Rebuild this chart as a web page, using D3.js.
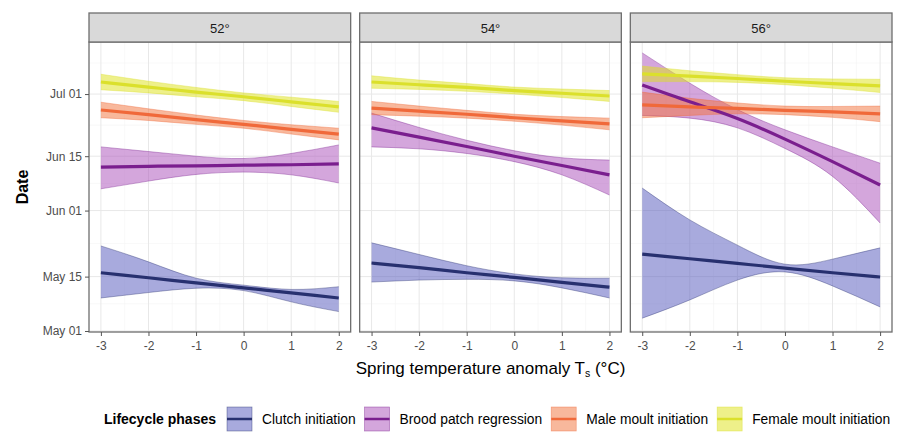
<!DOCTYPE html>
<html>
<head>
<meta charset="utf-8">
<script src="https://cdn.jsdelivr.net/npm/d3@7"></script>
<style>
  body { margin: 0; background: #fff; }
  text { font-family: "Liberation Sans", Arial, sans-serif; }
</style>
</head>
<body>
<svg width="907" height="432"></svg>
<script>
// temperature anomaly values where fits / bands were read
var xs = [-3, -2, -1, 0, 1, 2];
var xTicks = [-3, -2, -1, 0, 1, 2];
var panels = ["52°", "54°", "56°"];
var phases = ["Clutch initiation", "Brood patch regression", "Male moult initiation", "Female moult initiation"];
var tickDays = ["2019-05-01", "2019-05-15", "2019-06-01", "2019-06-15", "2019-07-01"];

// day of year: fit line, lower and upper limit
var clutch52 = {fit: [136.0, 134.7, 133.4, 132.1, 130.8, 129.5], lo: [129.5, 130.9, 132.0, 131.4, 128.5, 126.0], hi: [142.9, 138.8, 134.6, 132.8, 131.7, 132.4]};
var brood52  = {fit: [163.2, 163.4, 163.5, 163.7, 163.8, 164.0], lo: [157.6, 159.6, 161.3, 161.9, 161.2, 159.1], hi: [168.4, 167.2, 166.0, 165.4, 166.7, 168.9]};
var male52   = {fit: [177.9, 176.7, 175.4, 174.2, 172.9, 171.7], lo: [175.9, 175.2, 174.2, 173.2, 171.7, 170.2], hi: [179.9, 178.2, 176.6, 175.2, 174.1, 173.2]};
var female52 = {fit: [185.1, 183.8, 182.5, 181.3, 180.0, 178.7], lo: [183.1, 182.3, 181.3, 180.3, 178.8, 177.3], hi: [187.1, 185.3, 183.7, 182.3, 181.2, 180.1]};

var clutch54 = {fit: [138.5, 137.3, 136.0, 134.8, 133.5, 132.3], lo: [133.6, 134.1, 134.3, 133.9, 132.1, 129.5], hi: [143.7, 140.7, 137.8, 135.7, 134.7, 134.6]};
var brood54  = {fit: [173.3, 170.9, 168.5, 166.0, 163.6, 161.2], lo: [168.4, 167.9, 166.7, 164.6, 161.2, 156.0], hi: [177.1, 173.4, 170.1, 167.4, 165.6, 165.0]};
var male54   = {fit: [178.4, 177.6, 176.8, 175.9, 175.1, 174.3], lo: [176.7, 176.3, 175.8, 175.0, 174.0, 172.8], hi: [180.1, 178.9, 177.8, 176.8, 176.2, 175.8]};
var female54 = {fit: [185.1, 184.4, 183.7, 182.9, 182.2, 181.5], lo: [183.5, 183.2, 182.7, 182.0, 181.1, 180.1], hi: [186.7, 185.6, 184.7, 183.8, 183.3, 182.9]};

var clutch56 = {fit: [140.8, 139.6, 138.4, 137.2, 136.0, 134.9], lo: [124.3, 129.0, 134.1, 136.2, 132.6, 127.2], hi: [157.8, 149.6, 143.1, 138.2, 139.5, 142.4]};
var brood56  = {fit: [184.3, 180.0, 175.7, 170.4, 164.6, 158.6], lo: [176.5, 175.8, 173.3, 168.0, 160.8, 148.8], hi: [192.6, 184.8, 178.0, 172.8, 168.4, 164.2]};
var male56   = {fit: [179.2, 178.7, 178.3, 177.8, 177.4, 176.9], lo: [175.9, 176.5, 176.9, 176.7, 176.0, 174.9], hi: [182.5, 180.9, 179.7, 178.9, 178.8, 178.9]};
var female56 = {fit: [187.2, 186.6, 186.0, 185.3, 184.7, 184.1], lo: [185.2, 185.2, 185.0, 184.4, 183.5, 182.4], hi: [189.2, 188.0, 187.0, 186.2, 185.9, 185.8]};

var panelData = [
  [clutch52, brood52, male52, female52],
  [clutch54, brood54, male54, female54],
  [clutch56, brood56, male56, female56]
];

var lineColors = ["#27306f", "#7a1e8e", "#f0693a", "#dbe02c"];
var bandColors = ["#5155bb", "#a94db9", "#f17139", "#dde115"];

var svg = d3.select("svg"),
    left = 89, right = 892, stripTop = 13, stripH = 29, plotBottom = 332, gap = 9,
    panelW = (right - left - 2 * gap) / 3,
    plotTop = stripTop + stripH;

var parseDay = d3.timeParse("%Y-%m-%d");
var yearStart = new Date(2019, 0, 0);
function toDate(doy) { return new Date(yearStart.getTime() + doy * 864e5); }

var y = d3.scaleTime()
    .domain([toDate(120.74), toDate(195.4)])
    .range([plotBottom, plotTop]);
var x = d3.scaleLinear().domain([-3.25, 2.25]).range([0, panelW]);

var majorY = tickDays.map(parseDay);
var minorY = [];
for (var i = 0; i < majorY.length; i++) {
  var a = majorY[i], b = majorY[i + 1];
  if (!b) b = new Date(a.getTime() + (a - majorY[i - 1]));
  var m = new Date((a.getTime() + b.getTime()) / 2);
  if (m <= y.domain()[1]) minorY.push(m);
}
var minorX = [-2.5, -1.5, -0.5, 0.5, 1.5];

var band = d3.area()
    .curve(d3.curveNatural)
    .x(function(d) { return x(d.x); })
    .y0(function(d) { return y(toDate(d.lo)); })
    .y1(function(d) { return y(toDate(d.hi)); });
var line = d3.line()
    .curve(d3.curveNatural)
    .x(function(d) { return x(d.x); })
    .y(function(d) { return y(toDate(d.fit)); });
var edge = d3.line()
    .curve(d3.curveNatural)
    .x(function(d) { return x(d.x); })
    .y(function(d) { return y(toDate(d.v)); });

var tickFont = "12px";

panels.forEach(function(label, p) {
  var g = svg.append("g").attr("transform", "translate(" + (left + p * (panelW + gap)) + ",0)");

  // grid
  g.selectAll(".minor-y").data(minorY).enter().append("line")
      .attr("x1", 0).attr("x2", panelW)
      .attr("y1", function(d) { return y(d); }).attr("y2", function(d) { return y(d); })
      .attr("stroke", "#f3f3f3").attr("stroke-width", 0.6);
  g.selectAll(".minor-x").data(minorX).enter().append("line")
      .attr("y1", plotTop).attr("y2", plotBottom)
      .attr("x1", function(d) { return x(d); }).attr("x2", function(d) { return x(d); })
      .attr("stroke", "#f3f3f3").attr("stroke-width", 0.6);
  g.selectAll(".major-y").data(majorY).enter().append("line")
      .attr("x1", 0).attr("x2", panelW)
      .attr("y1", function(d) { return y(d); }).attr("y2", function(d) { return y(d); })
      .attr("stroke", "#e8e8e8").attr("stroke-width", 1);
  g.selectAll(".major-x").data(xTicks).enter().append("line")
      .attr("y1", plotTop).attr("y2", plotBottom)
      .attr("x1", function(d) { return x(d); }).attr("x2", function(d) { return x(d); })
      .attr("stroke", "#e8e8e8").attr("stroke-width", 1);

  var series = panelData[p].map(function(s, k) {
    return {k: k, pts: xs.map(function(v, j) { return {x: v, fit: s.fit[j], lo: s.lo[j], hi: s.hi[j]}; })};
  });

  // ribbons first, then fitted lines
  series.forEach(function(s) {
    g.append("path")
        .attr("d", band(s.pts))
        .attr("fill", bandColors[s.k]).attr("fill-opacity", 0.5);
    ["lo", "hi"].forEach(function(key) {
      g.append("path")
          .attr("d", edge(s.pts.map(function(d) { return {x: d.x, v: d[key]}; })))
          .attr("fill", "none")
          .attr("stroke", lineColors[s.k]).attr("stroke-opacity", 0.55).attr("stroke-width", 0.7);
    });
  });
  series.forEach(function(s) {
    g.append("path")
        .attr("d", line(s.pts))
        .attr("fill", "none")
        .attr("stroke", lineColors[s.k]).attr("stroke-width", 3.2);
  });

  // border
  g.append("rect")
      .attr("x", 0).attr("y", plotTop).attr("width", panelW).attr("height", plotBottom - plotTop)
      .attr("fill", "none").attr("stroke", "#6e6e6e").attr("stroke-width", 1.3);

  // strip
  g.append("rect")
      .attr("x", 0).attr("y", stripTop).attr("width", panelW).attr("height", stripH)
      .attr("fill", "#d9d9d9").attr("stroke", "#6e6e6e").attr("stroke-width", 1.3);
  g.append("text")
      .attr("x", panelW / 2).attr("y", stripTop + stripH / 2 + 5)
      .attr("text-anchor", "middle").attr("fill", "#1a1a1a")
      .style("font-size", "13px")
      .text(label);

  // x axis
  var ax = g.append("g")
      .attr("transform", "translate(0," + plotBottom + ")")
      .call(d3.axisBottom(x).tickValues(xTicks).tickSize(4).tickPadding(5)
        .tickFormat(function(d) { return String(d); }));
  ax.select(".domain").remove();
  ax.selectAll("line").attr("stroke", "#555");
  ax.selectAll("text").attr("fill", "#4d4d4d").style("font-size", tickFont)
      .style("font-family", "'Liberation Sans', Arial, sans-serif");

  if (p === 0) {
    var ay = g.append("g")
        .call(d3.axisLeft(y).tickValues(majorY).tickSize(4).tickPadding(3)
          .tickFormat(d3.timeFormat("%b %d")));
    ay.select(".domain").remove();
    ay.selectAll("line").attr("stroke", "#555");
    ay.selectAll("text").attr("fill", "#4d4d4d").style("font-size", tickFont)
        .style("font-family", "'Liberation Sans', Arial, sans-serif");
  }
});

// axis titles
svg.append("text")
    .attr("transform", "translate(28," + ((plotTop + plotBottom) / 2) + ") rotate(-90)")
    .attr("text-anchor", "middle").attr("fill", "#000")
    .style("font-size", "16px").style("font-weight", "bold")
    .text("Date");

var xt = svg.append("text")
    .attr("x", (left + right) / 2).attr("y", 374)
    .attr("text-anchor", "middle").attr("fill", "#000")
    .style("font-size", "17px");
xt.append("tspan").text("Spring temperature anomaly T");
xt.append("tspan").attr("dy", 3).style("font-size", "10.5px").text("s");
xt.append("tspan").attr("dy", -3).text(" (°C)");

// legend
var legY = 407, keyW = 25, keyH = 24;
svg.append("text")
    .attr("x", 216).attr("y", legY + 17)
    .attr("text-anchor", "end").attr("fill", "#000")
    .style("font-size", "14px").style("font-weight", "bold")
    .text("Lifecycle phases");

var lx = 227;
phases.forEach(function(name, k) {
  svg.append("rect")
      .attr("x", lx).attr("y", legY).attr("width", keyW).attr("height", keyH)
      .attr("fill", bandColors[k]).attr("fill-opacity", 0.5)
      .attr("stroke", lineColors[k]).attr("stroke-opacity", 0.55).attr("stroke-width", 0.7);
  svg.append("line")
      .attr("x1", lx).attr("x2", lx + keyW)
      .attr("y1", legY + keyH / 2).attr("y2", legY + keyH / 2)
      .attr("stroke", lineColors[k]).attr("stroke-width", 2.5);
  var t = svg.append("text")
      .attr("x", lx + keyW + 10).attr("y", legY + 17)
      .attr("fill", "#000").style("font-size", "13.8px")
      .text(name);
  lx += keyW + 10 + t.node().getComputedTextLength() + 9;
});
</script>
</body>
</html>
